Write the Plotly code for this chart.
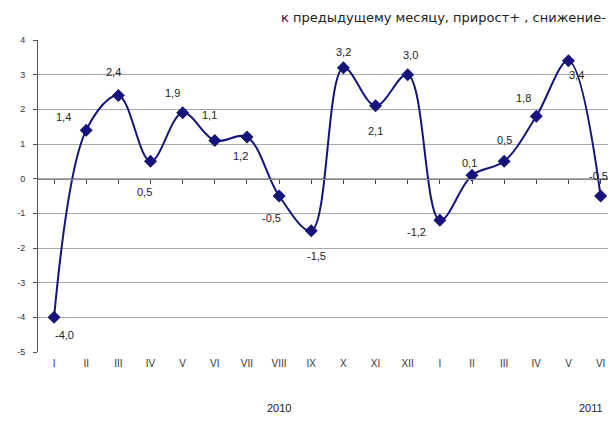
import plotly.graph_objects as go

months = ["I", "II", "III", "IV", "V", "VI", "VII", "VIII", "IX", "X", "XI", "XII",
          "I", "II", "III", "IV", "V", "VI"]
values = [-4.0, 1.4, 2.4, 0.5, 1.9, 1.1, 1.2, -0.5, -1.5, 3.2, 2.1, 3.0,
          -1.2, 0.1, 0.5, 1.8, 3.4, -0.5]
years = ["2010", "2011"]
year_pos = [7.0, 16.7]
y_ticks = [4, 3, 2, 1, 0, -1, -2, -3, -4, -5]
subtitle = "к предыдущему месяцу, прирост+ , снижение-"

# label offsets in pixels (dx right, dy down)
label_offsets = [(10, 18), (-23, -13), (-5, -23), (-6, 31), (-10, -20), (-5, -26),
                 (-6, 19), (-8, 22), (5, 25), (0, -16), (0, 25), (3, -20),
                 (-23, 12), (-3, -12), (0, -21), (-13, -18), (8, 14), (-2, -20)]

xi = list(range(len(values)))
navy = "#14147a"
font_lbl = "Liberation Sans, Arial, sans-serif"

# page body has an 8px margin -> figure is offset by 8px
W, H = 600, 405
top, bottom, left = 32, 344, 30

fig = go.Figure()
fig.add_trace(go.Scatter(
    x=xi, y=values, mode="lines+markers",
    line=dict(color=navy, width=2, shape="spline", smoothing=1.0),
    marker=dict(symbol="diamond", size=10, color=navy),
    cliponaxis=False, showlegend=False, hoverinfo="skip",
))

annotations = []
for i, v in enumerate(values):
    dx, dy = label_offsets[i]
    annotations.append(dict(
        x=i, y=v, xref="x", yref="y", text=f"{v:.1f}".replace(".", ","),
        showarrow=False, xshift=dx, yshift=-dy,
        font=dict(family=font_lbl, size=11, color="#222222"),
    ))
for yr, pos in zip(years, year_pos):
    annotations.append(dict(
        x=pos, y=(bottom - 400) / (bottom - top), xref="x", yref="paper",
        yanchor="middle", text=yr, showarrow=False,
        font=dict(family=font_lbl, size=11, color="#222222"),
    ))
annotations.append(dict(
    x=1.0, y=(bottom - 9) / (bottom - top), xref="paper", yref="paper",
    xanchor="right", yanchor="middle", text=subtitle, showarrow=False,
    font=dict(family="DejaVu Sans, sans-serif", size=13, color="#222222"),
))

xrange = [-0.5, 17.23]
fig.update_layout(
    width=W, height=H,
    margin=dict(l=left, r=0, t=top, b=H - bottom),
    plot_bgcolor="white", paper_bgcolor="white",
    annotations=annotations,
    xaxis=dict(
        range=xrange, tickmode="array", tickvals=xi, ticktext=months,
        showgrid=False, zeroline=False, showline=False, ticks="",
        ticklabelstandoff=4,
        tickfont=dict(family=font_lbl, size=10, color="#333333"),
    ),
    xaxis2=dict(
        range=xrange, overlaying="x", anchor="free", position=5 / 9,
        side="bottom", tickmode="array", tickvals=xi, ticktext=["" for _ in xi],
        tickson="boundaries", ticks="outside", ticklen=4, tickcolor="#444444",
        showline=True, linecolor="#8c8c8c", linewidth=1,
        showgrid=False, zeroline=False,
    ),
    yaxis=dict(
        range=[-5, 4], tickmode="array", tickvals=y_ticks,
        ticktext=[str(t) for t in y_ticks],
        showgrid=True, gridcolor="#a8a8a8", gridwidth=1,
        zeroline=False, showline=True, linecolor="#555555", linewidth=1,
        ticks="outside", ticklen=4, tickcolor="#555555",
        ticklabelstandoff=6,
        tickfont=dict(family=font_lbl, size=9, color="#333333"),
    ),
)
fig.add_trace(go.Scatter(x=[None], y=[None], xaxis="x2", showlegend=False,
                         hoverinfo="skip"))

fig.write_html("out.html")
